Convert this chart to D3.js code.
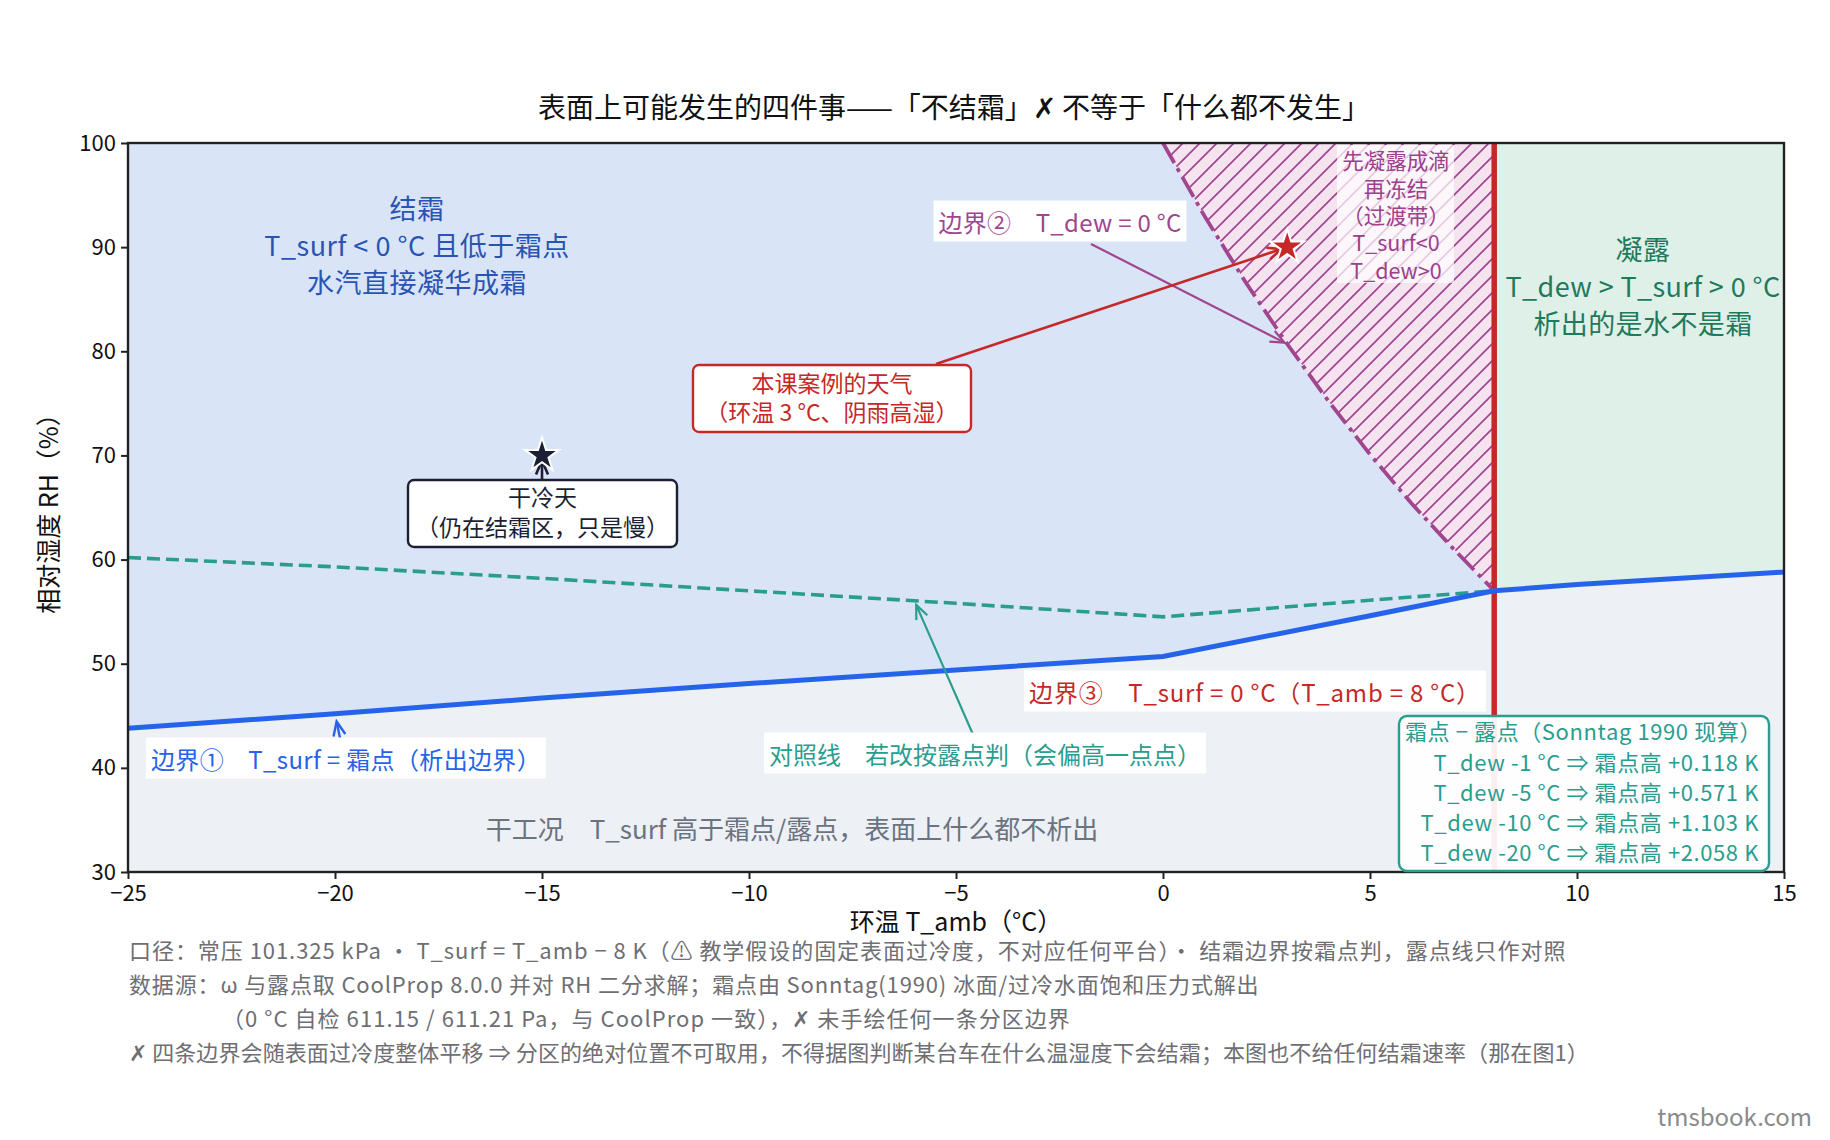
<!DOCTYPE html>
<html><head><meta charset="utf-8">
<script src="https://cdn.jsdelivr.net/npm/d3@7/dist/d3.min.js"></script>
<style>
body{margin:0;background:#fff;}
svg{display:block;font-family:"Noto Sans CJK SC","Noto Sans",sans-serif;}
</style></head>
<body>
<svg id="chart" width="1830" height="1140"></svg>
<script>
// ---------------- data ----------------
const xTicks = [-25, -20, -15, -10, -5, 0, 5, 10, 15];
const yTicks = [30, 40, 50, 60, 70, 80, 90, 100];

// boundary ①: T_surf = frost point (solid blue)
const frostT  = [-25, -20, -15, -10, -5, 0, 5, 8, 10, 15];
const frostRH = [43.8, 45.2, 46.7, 48.1, 49.4, 50.7, 54.6, 57.0, 57.6, 58.8];

// comparison line: judged by dew point (dashed teal)
const dewT  = [-25, -20, -15, -10, -5, 0, 5, 8];
const dewRH = [60.2, 59.3, 58.2, 57.0, 55.8, 54.5, 56.1, 57.0];

// boundary ②: T_dew = 0 °C (dash-dot purple)
const b2T  = [0, 1, 2, 3, 4, 5, 6, 7, 8];
const b2RH = [100, 93.0, 86.6, 80.7, 75.2, 70.1, 65.4, 61.1, 57.0];

// boundary ③: T_surf = 0 °C  ->  T_amb = 8 °C
const b3T = 8;

// marked weather points
const caseT = 3,  caseRH = 90;    // 本课案例
const dryT = -15, dryRH = 70;     // 干冷天

// frost-minus-dew table
const tableTitle = "霜点 − 露点（Sonntag 1990 现算）";
const tableDew   = [-1, -5, -10, -20];
const tableDiff  = ["+0.118", "+0.571", "+1.103", "+2.058"];

const footnotes = [
  "口径：常压 101.325 kPa ・ T_surf = T_amb − 8 K（⚠ 教学假设的固定表面过冷度，不对应任何平台）・ 结霜边界按霜点判，露点线只作对照",
  "数据源：ω 与露点取 CoolProp 8.0.0 并对 RH 二分求解；霜点由 Sonntag(1990) 冰面/过冷水面饱和压力式解出",
  "（0 °C 自检 611.15 / 611.21 Pa，与 CoolProp 一致），✗ 未手绘任何一条分区边界",
  "✗ 四条边界会随表面过冷度整体平移 ⇒ 分区的绝对位置不可取用，不得据图判断某台车在什么温湿度下会结霜；本图也不给任何结霜速率（那在图1）"
];

// ---------------- layout ----------------
const L = 128, R = 1784, T = 143, B = 872;
const svg = d3.select("#chart");
const x = d3.scaleLinear().domain([-25, 15]).range([L, R]);
const y = d3.scaleLinear().domain([30, 100]).range([B, T]);

const C = {
  frost: "#d9e4f7", dry: "#edf0f5", cond: "#dff0e9", hatchBg: "#f6e3f0",
  blue: "#2563eb", teal: "#2a9d8f", purple: "#a0468e", red: "#c62828",
  frostTxt: "#2a54b4", condTxt: "#1f7a5c", gray: "#6b7280", dark: "#1c1f33"
};

const defs = svg.append("defs");
const pat = defs.append("pattern").attr("id", "hatch").attr("patternUnits", "userSpaceOnUse")
  .attr("width", 17).attr("height", 17);
pat.append("rect").attr("width", 17).attr("height", 17).attr("fill", C.hatchBg);
pat.append("path").attr("d", "M0,17 L17,0 M-4,4 L4,-4 M13,21 L21,13")
  .attr("stroke", C.purple).attr("stroke-width", 1.7);
defs.append("clipPath").attr("id", "plotClip").append("rect")
  .attr("x", L).attr("y", T).attr("width", R - L).attr("height", B - T);

const plot = svg.append("g").attr("clip-path", "url(#plotClip)");

// background (dry region)
plot.append("rect").attr("x", L).attr("y", T).attr("width", R - L).attr("height", B - T).attr("fill", C.dry);

const frostPts = frostT.map((t, i) => [t, frostRH[i]]);
const areaTop = d3.area().x(d => x(d[0])).y0(d => y(d[1])).y1(y(100));

// frost region (left of T_amb = 8)
plot.append("path").datum(frostPts.filter(d => d[0] <= b3T)).attr("d", areaTop).attr("fill", C.frost);
// condensation region (right of T_amb = 8)
plot.append("path").datum(frostPts.filter(d => d[0] >= b3T)).attr("d", areaTop).attr("fill", C.cond);

// transition band (hatched)
const b2Pts = b2T.map((t, i) => [t, b2RH[i]]);
const bandPoly = b2Pts.concat([[b3T, 100]]);
plot.append("path").attr("d", d3.line().x(d => x(d[0])).y(d => y(d[1]))(bandPoly) + "Z")
  .attr("fill", "url(#hatch)");

// boundary ② dash-dot
plot.append("path").attr("d", d3.line().x(d => x(d[0])).y(d => y(d[1]))(b2Pts))
  .attr("fill", "none").attr("stroke", C.purple).attr("stroke-width", 3.8)
  .attr("stroke-dasharray", "23,6,4,6");

// comparison dashed teal
plot.append("path").attr("d", d3.line().x(d => x(d[0])).y(d => y(d[1]))(dewT.map((t, i) => [t, dewRH[i]])))
  .attr("fill", "none").attr("stroke", C.teal).attr("stroke-width", 3.6)
  .attr("stroke-dasharray", "13,6");

// boundary ③ red vertical
plot.append("line").attr("x1", x(b3T)).attr("x2", x(b3T)).attr("y1", y(100)).attr("y2", y(30))
  .attr("stroke", C.red).attr("stroke-width", 5.5);

// boundary ① solid blue
plot.append("path").attr("d", d3.line().x(d => x(d[0])).y(d => y(d[1]))(frostPts))
  .attr("fill", "none").attr("stroke", C.blue).attr("stroke-width", 5);

// ---------------- axes ----------------
const axG = svg.append("g");
const xAxis = axG.append("g").attr("transform", `translate(0,${B})`)
  .call(d3.axisBottom(x).tickValues(xTicks).tickFormat(d3.format("d")).tickSize(7).tickPadding(6));
const yAxis = axG.append("g").attr("transform", `translate(${L},0)`)
  .call(d3.axisLeft(y).tickValues(yTicks).tickFormat(d3.format("d")).tickSize(7).tickPadding(5));
[xAxis, yAxis].forEach(a => {
  a.select(".domain").remove();
  a.selectAll(".tick line").attr("stroke", "#222").attr("stroke-width", 2);
  a.selectAll(".tick text").attr("fill", "#111").style("font-size", "22px")
   .style("font-family", '"Noto Sans CJK SC",sans-serif');
});
axG.append("rect").attr("x", L).attr("y", T).attr("width", R - L).attr("height", B - T)
  .attr("fill", "none").attr("stroke", "#222").attr("stroke-width", 2.4);

// axis titles
svg.append("text").attr("x", (L + R) / 2).attr("y", 920).attr("text-anchor", "middle")
  .attr("dominant-baseline", "central").style("font-size", "25px").attr("fill", "#111")
  .text("环温 T_amb（°C）");
svg.append("text").attr("transform", `translate(47,${(T + B) / 2}) rotate(-90)`)
  .attr("text-anchor", "middle").attr("dominant-baseline", "central")
  .style("font-size", "25px").attr("fill", "#111").text("相对湿度 RH（%）");

// title
svg.append("text").attr("x", 954).attr("y", 106).attr("text-anchor", "middle")
  .attr("dominant-baseline", "central").style("font-size", "28px").attr("fill", "#111")
  .text("表面上可能发生的四件事——「不结霜」✗ 不等于「什么都不发生」");

// ---------------- annotations ----------------
const ann = svg.append("g");

function multiText(g, cx, cy, lines, size, color, lh, anchor, ls) {
  const n = lines.length;
  lines.forEach((s, i) => {
    g.append("text").attr("text-anchor", anchor || "middle").attr("fill", color)
      .style("font-size", size + "px").style("letter-spacing", (ls || 0) + "px")
      .attr("x", cx).attr("y", cy + (i - (n - 1) / 2) * lh)
      .attr("dominant-baseline", "central").text(s);
  });
}
function labelBox(g, cx, cy, text, size, color, padX, padY, ls) {
  const gg = g.append("g");
  const r = gg.append("rect").attr("fill", "#fff");
  const t = gg.append("text").attr("x", cx).attr("y", cy).attr("text-anchor", "middle")
    .attr("dominant-baseline", "central").attr("fill", color).style("font-size", size + "px")
    .style("letter-spacing", (ls || 0) + "px").text(text);
  const bb = t.node().getBBox();
  r.attr("x", bb.x - padX).attr("y", bb.y - padY).attr("width", bb.width + 2 * padX).attr("height", bb.height + 2 * padY);
  return gg;
}
function arrow(g, x0, y0, x1, y1, color, w, shrink) {
  const dx = x1 - x0, dy = y1 - y0, len = Math.hypot(dx, dy);
  const ux = dx / len, uy = dy / len;
  const ex = x1 - ux * shrink, ey = y1 - uy * shrink;
  g.append("line").attr("x1", x0).attr("y1", y0).attr("x2", ex).attr("y2", ey)
    .attr("stroke", color).attr("stroke-width", w);
  const hl = 14, hw = 6;
  const bx = ex - ux * hl, by = ey - uy * hl;
  g.append("path").attr("d", `M${bx - uy * hw},${by + ux * hw} L${ex},${ey} L${bx + uy * hw},${by - ux * hw}`)
    .attr("fill", "none").attr("stroke", color).attr("stroke-width", w).attr("stroke-linejoin", "miter");
}

// region texts
multiText(ann, 417, 244, ["结霜", "T_surf < 0 °C 且低于霜点", "水汽直接凝华成霜"], 27, C.frostTxt, 37, "middle", 0.5);
multiText(ann, 1643, 285.5, ["凝露", "T_dew > T_surf > 0 °C", "析出的是水不是霜"], 27, C.condTxt, 37, "middle", 0.4);
ann.append("rect").attr("x", 1337).attr("y", 145).attr("width", 117).attr("height", 138)
  .attr("fill", "#fff").attr("opacity", 0.72);
multiText(ann, 1396, 214.5, ["先凝露成滴", "再冻结", "（过渡带）", "T_surf<0", "T_dew>0"], 21.5, "#9c3f8c", 27.3);
ann.append("text").attr("x", 792).attr("y", 827).attr("text-anchor", "middle")
  .attr("dominant-baseline", "central").attr("fill", C.gray).style("font-size", "26px")
  .text("干工况　T_surf 高于霜点/露点，表面上什么都不析出");

// arrows
arrow(ann, 1091, 244, x(3), y(80.7), C.purple, 2.2, 3);
arrow(ann, 936, 364, x(caseT), y(caseRH), C.red, 2.6, 6);
arrow(ann, 975, 739, x(-6), y(56.0), C.teal, 2.2, 4);
arrow(ann, 341, 743, x(-20), y(45.2), C.blue, 2.4, 8);
arrow(ann, x(dryT), 480, x(dryT), y(dryRH), C.dark, 2.6, 5);

// boundary labels
labelBox(ann, 1060, 221, "边界②　T_dew = 0 °C", 24, C.purple, 5, 3, 0.3);
labelBox(ann, 1255, 691, "边界③　T_surf = 0 °C（T_amb = 8 °C）", 24, C.red, 5, 3, 0.8);
labelBox(ann, 346, 758, "边界①　T_surf = 霜点（析出边界）", 24, C.blue, 5, 3, 0.35);
labelBox(ann, 985, 753, "对照线　若改按露点判（会偏高一点点）", 24, C.teal, 5, 3, 0);

// boxed callouts
function calloutBox(g, x0, y0, x1, y1, stroke, lines, color, size, lh, dy) {
  g.append("rect").attr("x", x0).attr("y", y0).attr("width", x1 - x0).attr("height", y1 - y0)
    .attr("rx", 6).attr("fill", "#fff").attr("stroke", stroke).attr("stroke-width", 2.4);
  multiText(g, (x0 + x1) / 2, (y0 + y1) / 2 + dy, lines, size, color, lh);
}
calloutBox(ann, 693, 365, 971, 432, C.red, ["本课案例的天气", "（环温 3 °C、阴雨高湿）"], C.red, 23, 29.5, -2);
calloutBox(ann, 408, 480, 677, 547, C.dark, ["干冷天", "（仍在结霜区，只是慢）"], C.dark, 23, 30, -3);

// stars
const star = d3.symbol().type(d3.symbolStar).size(360);
ann.append("path").attr("d", star).attr("transform", `translate(${x(caseT)},${y(caseRH)})`)
  .attr("fill", C.red).attr("stroke", "#fff").attr("stroke-width", 2);
ann.append("path").attr("d", star).attr("transform", `translate(${x(dryT)},${y(dryRH)})`)
  .attr("fill", C.dark).attr("stroke", "#fff").attr("stroke-width", 2);

// frost - dew table box
const tb = ann.append("g");
tb.append("rect").attr("x", 1399).attr("y", 716).attr("width", 370).attr("height", 155).attr("rx", 8)
  .attr("fill", "#fff").attr("fill-opacity", 0.92).attr("stroke", C.teal).attr("stroke-width", 2.4);
tb.append("text").attr("x", 1405).attr("y", 730).attr("dominant-baseline", "central")
  .attr("fill", C.teal).style("font-size", "22px").style("letter-spacing", "0.6px").text(tableTitle);
tableDew.forEach((d, i) => {
  tb.append("text").attr("x", 1759).attr("y", 761 + i * 30).attr("text-anchor", "end")
    .attr("dominant-baseline", "central").attr("fill", C.teal).style("font-size", "22px")
    .style("letter-spacing", "0.6px")
    .text(`T_dew ${d} °C ⇒ 霜点高 ${tableDiff[i]} K`);
});

// footnotes
const footLS = [0.95, 0.85, 1.05, 0.1];
footnotes.forEach((s, i) => {
  svg.append("text").attr("x", i === 2 ? 222 : 129).attr("y", 949 + i * 34)
    .attr("dominant-baseline", "central").attr("fill", "#6e6e73").style("font-size", "22px")
    .style("letter-spacing", footLS[i] + "px").text(s);
});
svg.append("text").attr("x", 1812).attr("y", 1115).attr("text-anchor", "end")
  .attr("dominant-baseline", "central").attr("fill", "#8a8a8a").style("font-size", "24px").text("tmsbook.com");
</script>
</body></html>
